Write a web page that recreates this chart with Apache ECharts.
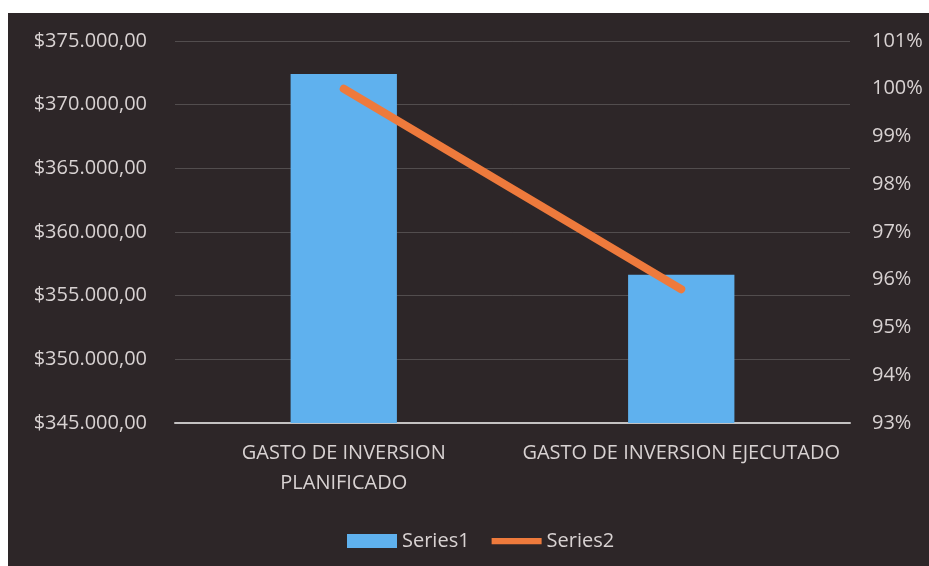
<!DOCTYPE html>
<html>
<head>
<meta charset="utf-8">
<script src="https://cdn.jsdelivr.net/npm/echarts@6/dist/echarts.min.js"></script>
<style>
  html, body { margin: 0; padding: 0; background: #fff; }
  #chart { width: 929px; height: 566px; }
</style>
</head>
<body>
<div id="chart"></div>
<script>
// categories and values
const categories = ["GASTO DE INVERSION\nPLANIFICADO", "GASTO DE INVERSION EJECUTADO"];
const series1 = [372400, 356650];   // montos
const series2 = [100, 95.8];        // porcentaje

const leftTicks = { min: 345000, max: 375000, interval: 5000 };
const rightTicks = { min: 93, max: 101, interval: 1 };

const textColor = "#d8d2d2";
const font = "'Open Sans', 'Noto Sans', sans-serif";

//$375.000,00 style
const money = v => "$" + Math.round(v).toString().replace(/\B(?=(\d{3})+(?!\d))/g, ".") + ",00";

const myChart = echarts.init(document.getElementById("chart"));

const option = {
    backgroundColor: "#ffffff",
    textStyle: { fontFamily: font },
    graphic: [{
        type: "rect",
        z: -10,
        shape: { x: 8, y: 13, width: 921, height: 553 },
        style: { fill: "#2d2628" }
    }],
    grid: {
        left: 175,
        right: 79,
        top: 41,
        bottom: 143
    },
    legend: {
        left: 342,
        top: 526,
        itemWidth: 50,
        itemHeight: 14,
        itemGap: 22,
        textStyle: { color: textColor, fontSize: 20, fontFamily: font },
        data: [
            { name: "Series1", icon: "rect" },
            { name: "Series2", icon: "path://M0,0H56V7H0Z" }
        ]
    },
    xAxis: {
        type: "category",
        data: categories,
        axisTick: { show: false },
        axisLine: { lineStyle: { color: "#c4c2c2", width: 2 } },
        axisLabel: {
            color: textColor,
            fontSize: 20,
            lineHeight: 30,
            margin: 15,
            interval: 0
        }
    },
    yAxis: [{
        type: "value",
        min: leftTicks.min,
        max: leftTicks.max,
        interval: leftTicks.interval,
        axisLine: { show: false },
        axisTick: { show: false },
        splitLine: { lineStyle: { color: "rgba(255,255,255,0.18)", width: 1 } },
        axisLabel: {
            color: textColor,
            fontSize: 20,
            margin: 28,
            formatter: money
        }
    }, {
        type: "value",
        min: rightTicks.min,
        max: rightTicks.max,
        interval: rightTicks.interval,
        position: "right",
        axisLine: { show: false },
        axisTick: { show: false },
        splitLine: { show: false },
        axisLabel: {
            color: textColor,
            fontSize: 20,
            margin: 22,
            formatter: v => v + "%"
        }
    }],
    series: [{
        name: "Series1",
        type: "bar",
        barWidth: "31.5%",
        itemStyle: { color: "#5fb1ee" },
        data: series1
    }, {
        name: "Series2",
        type: "line",
        yAxisIndex: 1,
        symbol: "none",
        itemStyle: { color: "#ee7a3c" },
        lineStyle: { color: "#ee7a3c", width: 8, cap: "round" },
        data: series2
    }]
};

myChart.setOption(option);
</script>
</body>
</html>
